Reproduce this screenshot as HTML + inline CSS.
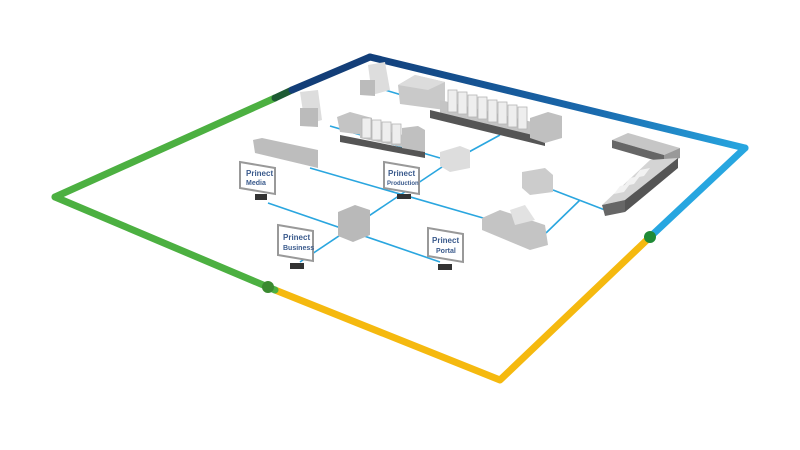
<!DOCTYPE html>
<html><head><style>
html,body{margin:0;padding:0;background:#fff;width:800px;height:450px;overflow:hidden}
svg text{font-family:"Liberation Sans",sans-serif;font-weight:bold;fill:#3a5a8c}
</style></head><body>
<svg width="800" height="450" viewBox="0 0 800 450" xmlns="http://www.w3.org/2000/svg">
<defs>
<linearGradient id="tb" x1="370" y1="57" x2="745" y2="148" gradientUnits="userSpaceOnUse">
<stop offset="0" stop-color="#123f7a"/><stop offset="0.6" stop-color="#1a6aae"/><stop offset="1" stop-color="#27a6e0"/></linearGradient>
</defs>
<g fill="none" stroke-width="7" stroke-linecap="round" stroke-linejoin="round">
<polyline points="55,197 275,98" stroke="#4cb041"/>
<polyline points="275,98 292,90" stroke="#1d5a33"/>
<polyline points="292,90 370,57" stroke="#133e78"/>
<polyline points="370,57 745,148" stroke="url(#tb)"/>
<polyline points="745,148 650,237" stroke="#27a6e0"/>
<polyline points="650,237 500,380 275,290" stroke="#f5b90f"/>
<polyline points="275,290 55,197" stroke="#4cb041"/>
</g>
<circle cx="650" cy="237" r="6" fill="#1f8a36"/>
<circle cx="268" cy="287" r="6" fill="#3a8a30"/>
<g stroke="#2aa6df" stroke-width="1.6" fill="none">
<line x1="310" y1="168" x2="490" y2="220"/>
<line x1="268" y1="203" x2="440" y2="262"/>
<line x1="300" y1="262" x2="445" y2="165"/>
<line x1="445" y1="165" x2="500" y2="135"/>
<line x1="330" y1="126" x2="440" y2="158"/>
<line x1="385" y1="90" x2="405" y2="96"/>
<line x1="553" y1="190" x2="605" y2="210"/>
<line x1="580" y1="200" x2="546" y2="233"/>
</g>
<g stroke="none">
<polygon points="398,85 415,75 445,82 445,110 400,104" fill="#c9c9c9"/>
<polygon points="398,85 415,75 445,82 428,90" fill="#dcdcdc"/>
<polygon points="440,100 545,125 545,140 440,114" fill="#c4c4c4"/>
<polygon points="430,110 545,138 545,146 430,118" fill="#555"/>
<g fill="#eee" stroke="#b5b5b5" stroke-width="0.8">
<rect x="448" y="90" width="9" height="22"/><rect x="458" y="92" width="9" height="22"/>
<rect x="468" y="95" width="9" height="22"/><rect x="478" y="97" width="9" height="22"/>
<rect x="488" y="100" width="9" height="22"/><rect x="498" y="102" width="9" height="22"/>
<rect x="508" y="105" width="9" height="22"/><rect x="518" y="107" width="9" height="22"/>
</g>
<polygon points="530,118 548,112 562,116 562,138 545,143 530,138" fill="#c0c0c0"/>
<polygon points="368,65 385,62 390,90 372,95" fill="#ddd"/>
<polygon points="360,80 375,80 375,96 360,95" fill="#bbb"/>
<polygon points="300,92 318,90 322,120 305,125" fill="#ddd"/>
<polygon points="300,108 318,108 318,127 300,126" fill="#bbb"/>
<polygon points="337,117 350,112 372,118 372,136 340,132" fill="#c4c4c4"/>
<polygon points="360,125 425,140 425,152 360,138" fill="#c4c4c4"/>
<polygon points="340,135 425,152 425,158 340,142" fill="#555"/>
<g fill="#eee" stroke="#b5b5b5" stroke-width="0.8">
<rect x="362" y="118" width="9" height="20"/><rect x="372" y="120" width="9" height="20"/>
<rect x="382" y="122" width="9" height="20"/><rect x="392" y="124" width="9" height="20"/>
</g>
<polygon points="402,128 418,126 425,130 425,152 402,148" fill="#c0c0c0"/>
<polygon points="440,152 460,146 470,150 470,168 450,172 440,166" fill="#ddd"/>
<polygon points="253,140 262,138 318,150 318,168 255,153" fill="#bdbdbd"/>
<polygon points="338,212 355,205 370,210 370,235 353,242 338,236" fill="#b9b9b9"/>
<polygon points="522,172 545,168 553,175 553,192 530,195 522,188" fill="#ccc"/>
<polygon points="482,218 500,210 545,225 548,245 530,250 482,230" fill="#c4c4c4"/>
<polygon points="510,210 525,205 535,220 515,225" fill="#e2e2e2"/>
<polygon points="612,140 628,133 680,148 664,155" fill="#c6c6c6"/>
<polygon points="612,140 664,155 664,163 612,148" fill="#666"/>
<polygon points="664,155 680,148 680,158 664,163" fill="#999"/>
<polygon points="650,160 678,158 625,200 602,205" fill="#d4d4d4"/>
<polygon points="678,158 678,168 625,212 625,200" fill="#555"/>
<polygon points="602,205 625,200 625,212 605,216" fill="#666"/>
<g fill="#f2f2f2"><polygon points="640,170 650,168 644,176 634,178"/><polygon points="630,178 640,176 634,184 624,186"/><polygon points="620,186 630,184 624,192 614,194"/></g>
</g>
<g>
<g transform="translate(240,162)">
<polygon points="0,0 35,6 35,32 0,26" fill="#fff" stroke="#999" stroke-width="2"/>
<rect x="15" y="32" width="12" height="6" fill="#333"/>
<text x="6" y="14" font-size="8">Prinect</text><text x="6" y="23" font-size="7" font-weight="normal">Media</text>
</g>
<g transform="translate(384,162)">
<polygon points="0,0 35,6 35,32 0,26" fill="#fff" stroke="#999" stroke-width="2"/>
<rect x="13" y="32" width="14" height="5" fill="#333"/>
<text x="4" y="14" font-size="8">Prinect</text><text x="3" y="23" font-size="6" font-weight="normal">Production</text>
</g>
<g transform="translate(278,225)">
<polygon points="0,0 35,6 35,36 0,30" fill="#fff" stroke="#999" stroke-width="2"/>
<rect x="12" y="38" width="14" height="6" fill="#333"/>
<text x="5" y="15" font-size="8">Prinect</text><text x="5" y="25" font-size="7" font-weight="normal">Business</text>
</g>
<g transform="translate(428,228)">
<polygon points="0,0 35,6 35,34 0,28" fill="#fff" stroke="#999" stroke-width="2"/>
<rect x="10" y="36" width="14" height="6" fill="#333"/>
<text x="4" y="15" font-size="8">Prinect</text><text x="8" y="25" font-size="7" font-weight="normal">Portal</text>
</g>
</g>
</svg>
</body></html>
